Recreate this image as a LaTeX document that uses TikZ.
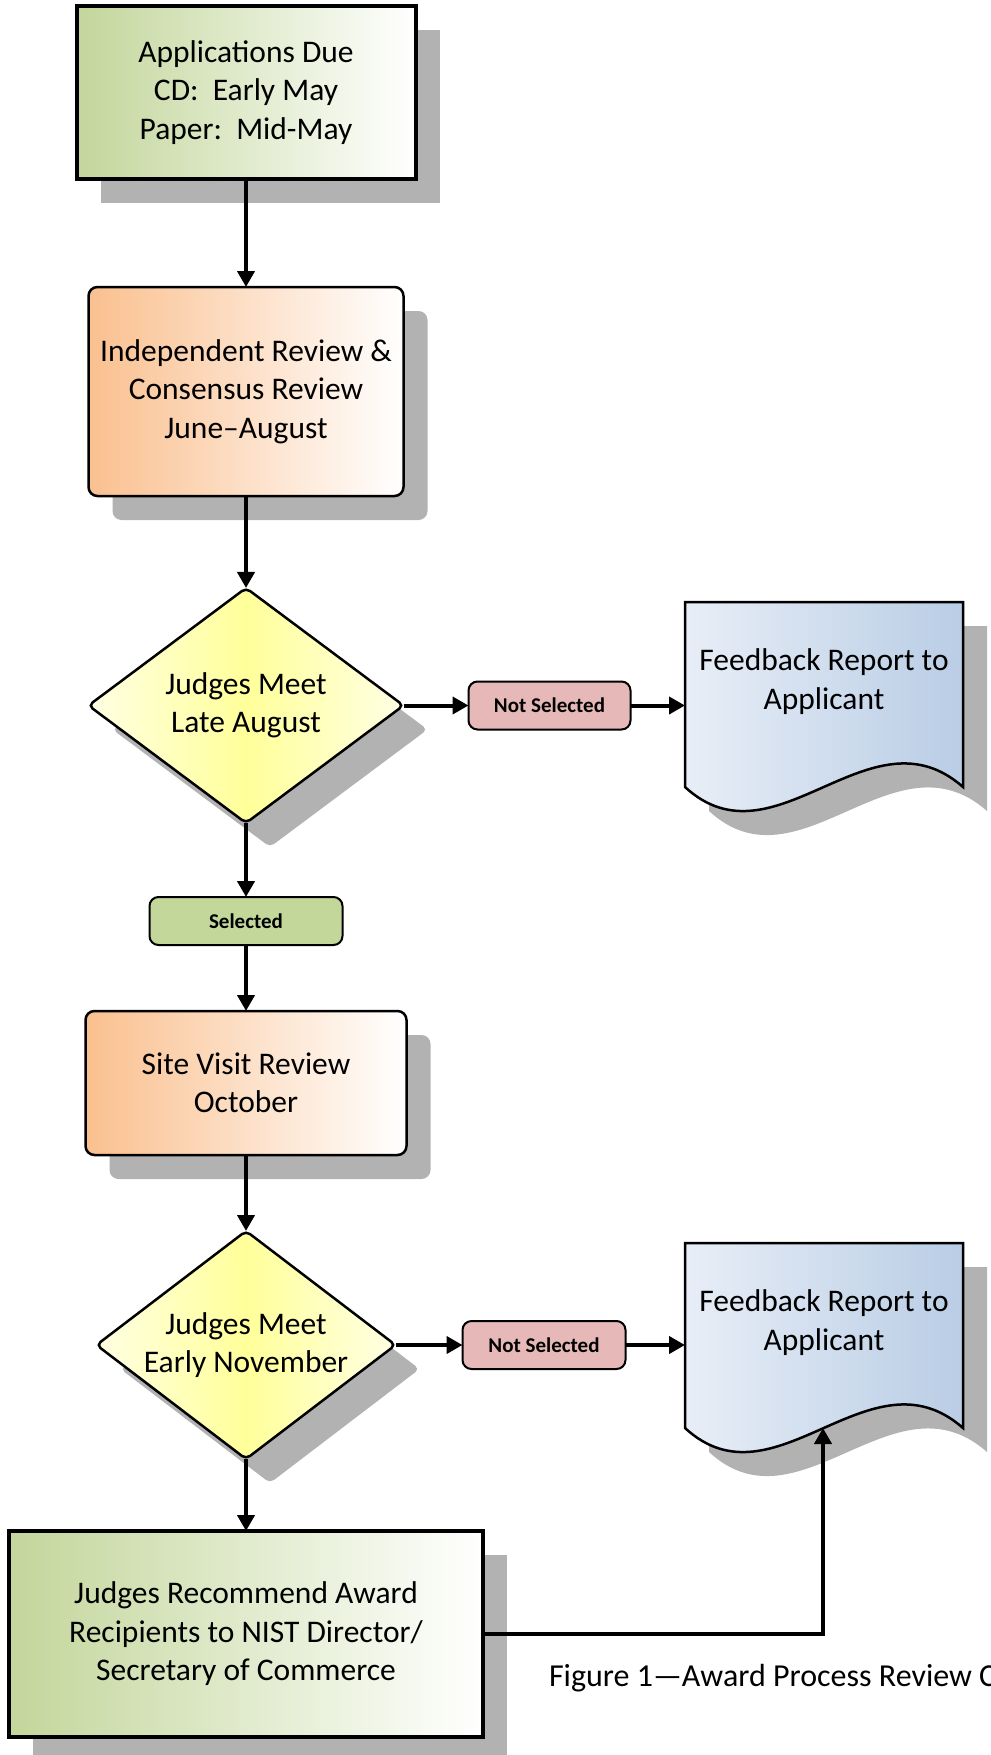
\documentclass[tikz,border=0pt]{standalone}
\usepackage{fontspec}
\setmainfont{Carlito}
\usetikzlibrary{positioning,shapes.geometric,shadows,arrows.meta}
\definecolor{appgreen}{HTML}{C3D69B}
\definecolor{revorange}{HTML}{FAC08F}
\definecolor{meetyellow}{HTML}{FFFF9A}
\definecolor{meetpale}{HTML}{FFFFE4}
\definecolor{docblue}{HTML}{B9CDE5}
\definecolor{docpale}{HTML}{E8EEF7}
\definecolor{nopink}{HTML}{E6B9B8}
\definecolor{selgreen}{HTML}{C4D79B}
\definecolor{shadowgray}{HTML}{B2B2B2}
\newcommand{\boxfont}{\fontsize{31.5}{38.5}\selectfont}
\newcommand{\tagfont}{\fontsize{21}{25}\selectfont\bfseries}
\newcommand{\figfont}{\fontsize{32}{38}\selectfont}
\tikzset{shadowed/.style={drop shadow={shadow xshift=24pt,shadow yshift=-24pt,fill=shadowgray,opacity=1}},
         squarebox/.style={draw,line width=4pt,left color=appgreen,right color=white,align=center,font=\boxfont,shadowed},
         roundbox/.style={draw,line width=2.5pt,rounded corners=9pt,left color=revorange,right color=white,align=center,font=\boxfont,shadowed},
         decision/.style={diamond,aspect=1.3,draw,line width=2.5pt,rounded corners=5pt,left color=meetpale,right color=meetpale,middle color=meetyellow,align=center,font=\boxfont,inner sep=0pt,shadowed},
         outcome/.style={draw,line width=2pt,rounded corners=9pt,align=center,font=\tagfont,minimum height=48pt},
         report/.style={align=center,font=\boxfont,minimum width=278pt},
         docshape/.style={draw,line width=2.5pt,left color=docpale,right color=docblue,shadowed}
}
\tikzstyle{arrow} = [line width=4pt,-{Triangle[length=16pt,width=17pt]}]

\begin{document}
\begin{tikzpicture}[x=1pt,y=-1pt,every node/.style={outer sep=0pt}]
\useasboundingbox (0,0) rectangle (990,1755);

\node[squarebox,minimum width=339pt,minimum height=173pt] (appdue) at (246,92.5) {Applications Due\\CD:\ \ Early May\\Paper:\ \ Mid-May};
\node[roundbox,minimum width=315pt,minimum height=209pt,below=108pt of appdue] (review) {Independent Review \&\\Consensus Review\\June--August};
\node[decision,minimum width=315pt,minimum height=235pt,below=92pt of review] (meet1) {Judges Meet\\Late August};
\node[outcome,fill=nopink,minimum width=162pt,right=65pt of meet1] (notsel1) {Not Selected};
\draw[docshape,shift={(685,602)}] (0,0) -- (278,0) -- (278,185) .. controls (185,103) and (90,268) .. (0,185) -- cycle;
\node[report] (report1) at (824,681.5) {Feedback Report to\\Applicant};
\node[outcome,fill=selgreen,minimum width=193pt,below=74pt of meet1] (sel) {Selected};
\node[roundbox,minimum width=321pt,minimum height=144pt,below=66pt of sel] (visit) {Site Visit Review\\October};
\node[decision,minimum width=299pt,minimum height=228pt,below=76pt of visit] (meet2) {Judges Meet\\Early November};
\node[outcome,fill=nopink,minimum width=163pt,right=67pt of meet2] (notsel2) {Not Selected};
\draw[docshape,shift={(685,1243)}] (0,0) -- (278,0) -- (278,185) .. controls (185,103) and (90,268) .. (0,185) -- cycle;
\node[report] (report2) at (824,1322.5) {Feedback Report to\\Applicant};
\coordinate (wave2) at (823,1428);
\node[squarebox,minimum width=474pt,minimum height=206pt,below=72pt of meet2] (recommend) {Judges Recommend Award\\Recipients to NIST Director/\\Secretary of Commerce};
\node[anchor=base west,font=\figfont,inner sep=0pt] (caption) at (549,1686) {Figure 1—Award Process Review C};

\draw[arrow] (appdue) -- (review);
\draw[arrow] (review) -- (meet1);
\draw[arrow] (meet1) -- (notsel1);
\draw[arrow] (notsel1.east) -- (notsel1.east -| report1.west);
\draw[arrow] (meet1) -- (sel);
\draw[arrow] (sel) -- (visit);
\draw[arrow] (visit) -- (meet2);
\draw[arrow] (meet2) -- (notsel2);
\draw[arrow] (notsel2.east) -- (notsel2.east -| report2.west);
\draw[arrow] (meet2) -- (recommend);
\draw[arrow] (recommend.east) -| (wave2);

\end{tikzpicture}
\end{document}
